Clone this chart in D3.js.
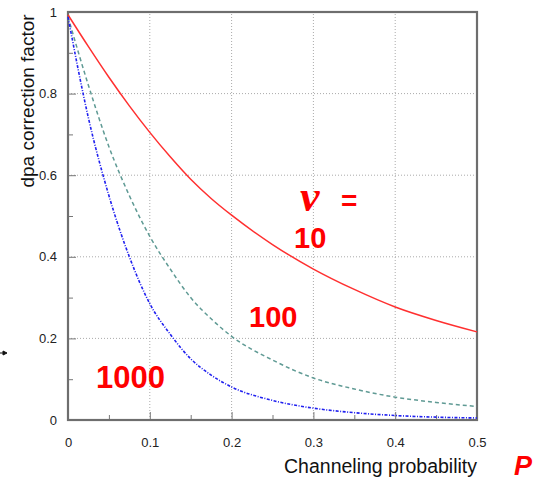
<!DOCTYPE html>
<html>
<head>
<meta charset="utf-8">
<script src="https://cdn.jsdelivr.net/npm/d3@7"></script>
<style>
  body { margin: 0; background: white; }
  svg { font-family: "Liberation Sans", Arial, sans-serif; }
</style>
</head>
<body>
<svg width="547" height="481"></svg>
<script>
let width = 547;
let height = 481;
let margin = { top: 12, right: 70, bottom: 61, left: 68 };

// channeling probability P
let probability = [0, 0.025, 0.05, 0.075, 0.1, 0.125, 0.15, 0.175, 0.2, 0.25, 0.3, 0.35, 0.4, 0.45, 0.5];
// dpa correction factor for nu = 10, 100, 1000
let nu10 = [0.993, 0.915, 0.84, 0.77, 0.705, 0.645, 0.59, 0.543, 0.502, 0.43, 0.37, 0.32, 0.277, 0.244, 0.216];
let nu100 = [0.988, 0.82, 0.67, 0.55, 0.45, 0.37, 0.30, 0.248, 0.205, 0.147, 0.103, 0.076, 0.056, 0.043, 0.033];
let nu1000 = [0.988, 0.74, 0.55, 0.40, 0.285, 0.21, 0.15, 0.11, 0.081, 0.048, 0.029, 0.018, 0.011, 0.007, 0.005];

let xTicks = [0, 0.1, 0.2, 0.3, 0.4, 0.5];
let yTicks = [0, 0.2, 0.4, 0.6, 0.8, 1];

let svg = d3.select("svg");

let x = d3.scaleLinear()
    .domain([0, 0.5])
    .range([margin.left, width - margin.right]);

let y = d3.scaleLinear()
    .domain([0, 1])
    .range([height - margin.bottom, margin.top]);

// grid
svg.append("g")
    .selectAll("line")
    .data(xTicks.slice(1, -1))
    .join("line")
    .attr("x1", d => x(d)).attr("x2", d => x(d))
    .attr("y1", y(0)).attr("y2", y(1))
    .style("stroke", "#aaaaaa")
    .style("stroke-width", 1)
    .style("stroke-dasharray", "1,2");

svg.append("g")
    .selectAll("line")
    .data(yTicks.slice(1, -1))
    .join("line")
    .attr("y1", d => y(d)).attr("y2", d => y(d))
    .attr("x1", x(0)).attr("x2", x(0.5))
    .style("stroke", "#aaaaaa")
    .style("stroke-width", 1)
    .style("stroke-dasharray", "1,2");

// ticks inside the frame
let xAxisSettings = d3.axisBottom(x)
    .tickValues(xTicks)
    .tickSize(-8)
    .tickPadding(18)
    .tickFormat(d3.format("~g"));

let xMinor = d3.axisBottom(x)
    .tickValues([0.05, 0.15, 0.25, 0.35, 0.45])
    .tickSize(-5)
    .tickFormat("");

let yAxisSettings = d3.axisLeft(y)
    .tickValues(yTicks)
    .tickSize(-8)
    .tickPadding(11)
    .tickFormat(d3.format("~g"));

let yMinor = d3.axisLeft(y)
    .tickValues([0.1, 0.3, 0.5, 0.7, 0.9])
    .tickSize(-5)
    .tickFormat("");

svg.append("g")
    .attr("class", "x axis")
    .attr("transform", `translate(0,${y(0)})`)
    .call(xAxisSettings);

svg.append("g")
    .attr("class", "x axis")
    .attr("transform", `translate(0,${y(0)})`)
    .call(xMinor);

svg.append("g")
    .attr("class", "y axis")
    .attr("transform", `translate(${x(0)},0)`)
    .call(yAxisSettings);

svg.append("g")
    .attr("class", "y axis")
    .attr("transform", `translate(${x(0)},0)`)
    .call(yMinor);

svg.selectAll(".axis .domain").style("display", "none");
svg.selectAll(".axis .tick line").style("stroke", "#777777");
svg.selectAll(".axis .tick text")
    .style("font-size", "13px")
    .style("fill", "#222222")
    .style("font-family", "Liberation Sans, Arial, sans-serif");

// frame
svg.append("rect")
    .attr("x", x(0)).attr("y", y(1))
    .attr("width", x(0.5) - x(0))
    .attr("height", y(0) - y(1))
    .style("fill", "none")
    .style("stroke", "#6e6e6e")
    .style("stroke-width", 2.2);

// curves
let line = d3.line()
    .x((d, i) => x(probability[i]))
    .y(d => y(d))
    .curve(d3.curveMonotoneX);

svg.append("path")
    .datum(nu10)
    .attr("d", line)
    .style("fill", "none")
    .style("stroke", "#ff3030")
    .style("stroke-width", 1.5);

svg.append("path")
    .datum(nu100)
    .attr("d", line)
    .style("fill", "none")
    .style("stroke", "#5f9a94")
    .style("stroke-width", 1.5)
    .style("stroke-dasharray", "4,3");

svg.append("path")
    .datum(nu1000)
    .attr("d", line)
    .style("fill", "none")
    .style("stroke", "#2020f0")
    .style("stroke-width", 1.6)
    .style("stroke-dasharray", "3,1.5,1,1.5");

// axis titles
svg.append("text")
    .attr("transform", "translate(34,101) rotate(-90)")
    .attr("text-anchor", "middle")
    .style("font-size", "19px")
    .style("fill", "#111111")
    .text("dpa correction factor");

svg.append("text")
    .attr("x", x(0.5))
    .attr("y", 473)
    .attr("text-anchor", "end")
    .style("font-size", "19.5px")
    .style("fill", "#111111")
    .text("Channeling probability");

// red annotations
let red = "#ff0000";

svg.append("text")
    .attr("x", 300).attr("y", 211)
    .style("font-family", "Liberation Serif, serif")
    .style("font-style", "italic")
    .style("font-weight", "bold")
    .style("font-size", "44px")
    .style("fill", red)
    .text("ν");

svg.append("text")
    .attr("x", 341).attr("y", 210)
    .style("font-weight", "bold")
    .style("font-size", "28px")
    .style("fill", red)
    .text("=");

svg.append("text")
    .attr("x", 294).attr("y", 248)
    .style("font-weight", "bold")
    .style("font-size", "29px")
    .style("fill", red)
    .text("10");

svg.append("text")
    .attr("x", 249).attr("y", 327)
    .style("font-weight", "bold")
    .style("font-size", "29px")
    .style("fill", red)
    .text("100");

svg.append("text")
    .attr("x", 96).attr("y", 388)
    .style("font-weight", "bold")
    .style("font-size", "31px")
    .style("fill", red)
    .text("1000");

svg.append("text")
    .attr("x", 514).attr("y", 475)
    .style("font-weight", "bold")
    .style("font-style", "italic")
    .style("font-size", "27px")
    .style("fill", red)
    .text("P");

// small cropped arrow at the left edge
svg.append("path")
    .attr("d", "M0,353 H4 M3,351 L7,353 L3,355 Z")
    .style("fill", "#111111")
    .style("stroke", "#111111")
    .style("stroke-width", 1);
</script>
</body>
</html>
